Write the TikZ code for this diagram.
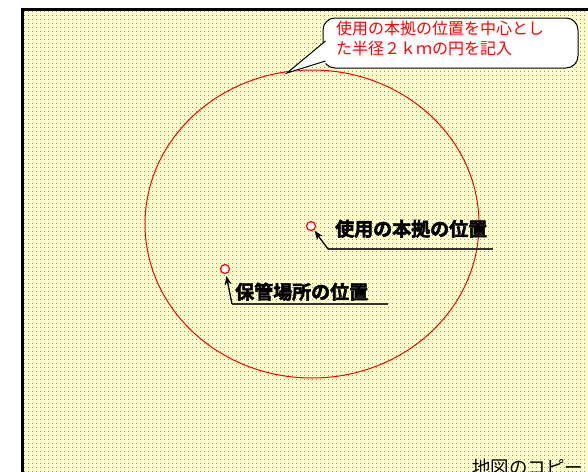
\documentclass[tikz,border=0pt]{standalone}
\usepackage{fontspec}
\newfontfamily\cjk{Noto Sans CJK JP}
\newfontfamily\cjkb[FakeBold=2.5]{Noto Sans CJK JP Bold}
\usetikzlibrary{patterns,arrows.meta,shapes.geometric}
\pgfdeclarepatternformonly{mydots}{\pgfqpoint{0pt}{0pt}}{\pgfqpoint{4pt}{4pt}}{\pgfqpoint{4pt}{4pt}}{%
  \pgfpathrectangle{\pgfqpoint{0pt}{0pt}}{\pgfqpoint{0.8pt}{0.8pt}}\pgfusepath{fill}}
\definecolor{paper}{HTML}{FFFFCC}
\definecolor{darkline}{HTML}{333333}
\tikzset{
  marker/.style={circle,draw=red,fill=white,line width=1.2pt,minimum size=9pt,inner sep=0pt},
  biglabel/.style={font=\cjkb\fontsize{19}{19}\selectfont,inner sep=0pt,anchor=base west},
  pointer/.style={-{Stealth[length=9pt,width=7pt]},line width=1.3pt,black},
  calloutbox/.style={draw=black,line width=1pt,fill=white,rounded corners=12pt}
}
\begin{document}
\begin{tikzpicture}[x=1pt,y=-1pt]
\useasboundingbox (0,0) rectangle (588,471);
\clip (0,0) rectangle (588,471);
% paper with dots
\fill[paper] (22,9) rectangle (600,480);
\fill[pattern=mydots,pattern color=black] (22,9) rectangle (600,480);
\draw[line width=3pt] (22,485) -- (22,9) -- (600,9);
% big red circle
\node[draw=red,line width=1pt,ellipse,minimum width=334pt,minimum height=308pt,inner sep=0pt] (ring) at (312,224) {};
% callout
\coordinate (tip) at (287,73);
\draw[calloutbox] (323,18) rectangle (578,68);
\fill[white] (tip) -- (327,40) -- (327,63) -- cycle;
\draw[line width=1pt] (325.5,41) -- (tip) -- (325.5,61);
\node[font=\cjk\fontsize{16}{20}\selectfont,text=red,align=left,anchor=north west,inner sep=0pt] (calltext) at (336,21) {使用の本拠の位置を中心とし\\た半径２ｋｍの円を記入};
% markers
\node[marker] (m1) at (311,226) {};
\node[marker] (m2) at (225,269) {};
% label 1
\coordinate (u1s) at (328,249);
\coordinate (u1e) at (493,249);
\draw[darkline,line width=2pt] (u1s) -- (u1e);
\node[biglabel] (l1) at (335,236) {使用の本拠の位置};
\draw[pointer,shorten >=1pt] (u1s) -- (m1);
% label 2
\coordinate (u2s) at (232,304);
\coordinate (u2e) at (388,304);
\draw[darkline,line width=1.2pt] (u2s) -- (u2e);
\node[biglabel] (l2) at (235,299) {保管場所の位置};
\draw[pointer,shorten >=2pt] (u2s) -- (m2);
% bottom text
\node[font=\cjk\fontsize{18.5}{18.5}\selectfont,anchor=base west,inner sep=0pt] (copy) at (472,474) {地図のコピー};
\end{tikzpicture}
\end{document}
